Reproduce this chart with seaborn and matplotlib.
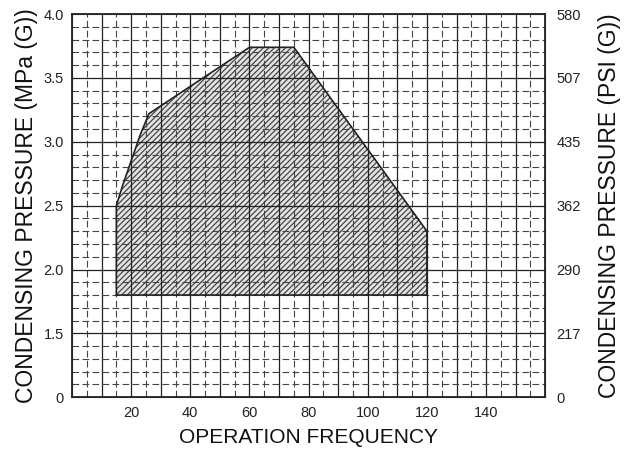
import numpy as np
import pandas as pd
import matplotlib
matplotlib.use("Agg")
import matplotlib.pyplot as plt
import seaborn as sns

# Operating envelope (frequency vs condensing pressure, MPa)
freq = [15, 15, 17, 20, 23, 26, 60, 75, 120, 120]
pressure = [1.8, 2.5, 2.65, 2.85, 3.05, 3.22, 3.74, 3.74, 2.3, 1.8]

# Tick labels (the bottom tick "0" sits where 1.0 MPa would be - broken axis)
x_ticks = [20, 40, 60, 80, 100, 120, 140]
y_ticks = [1.0, 1.5, 2.0, 2.5, 3.0, 3.5, 4.0]
y_labels = ["0", "1.5", "2.0", "2.5", "3.0", "3.5", "4.0"]
psi_labels = ["0", "217", "290", "362", "435", "507", "580"]

sns.set_style("white")
plt.rcParams['font.family'] = ['Liberation Sans', 'DejaVu Sans']
plt.rcParams['hatch.linewidth'] = 0.9

fig = plt.figure(figsize=(6.26, 4.55), dpi=100)
ax = fig.add_axes([0.115, 0.127, 0.756, 0.842])
ax.set_xlim(0, 160)
ax.set_ylim(1.0, 4.0)

# hatched envelope
ax.fill(freq, pressure, facecolor='#e0e0e0', edgecolor='#2a2a2a',
        hatch='//////', lw=0, zorder=1, alpha=0.85)

# grid drawn over the envelope: dashed minor, solid major
for x in np.arange(5, 160, 10):
    ax.axvline(x, color='#444444', lw=0.8, ls=(0, (6, 3)), zorder=2)
for x in np.arange(10, 160, 10):
    ax.axvline(x, color='#222222', lw=0.9, zorder=2)
for y in np.arange(1.1, 4.0, 0.1):
    if abs(round(y * 2) - y * 2) > 1e-6:
        ax.axhline(y, color='#444444', lw=0.8, ls=(0, (6, 3)), zorder=2)
for y in np.arange(1.5, 4.0, 0.5):
    ax.axhline(y, color='#222222', lw=0.9, zorder=2)

env = pd.DataFrame({'freq': freq + [freq[0]], 'pressure': pressure + [pressure[0]]})
sns.lineplot(data=env, x='freq', y='pressure', sort=False, estimator=None,
             color='#222222', lw=1.2, ax=ax, zorder=3)

ax.set_xticks(x_ticks)
ax.set_yticks(y_ticks)
ax.set_yticklabels(y_labels)
ax.tick_params(labelsize=10.5, length=0, pad=6, labelcolor='#222222')
ax.set_xlabel("OPERATION FREQUENCY", fontsize=15, labelpad=6, color='#111111')
ax.set_ylabel("CONDENSING PRESSURE (MPa (G))", fontsize=16.5, labelpad=4, color='#111111')
for s in ax.spines.values():
    s.set_color('#111111')
    s.set_linewidth(1.2)

ax2 = ax.twinx()
ax2.set_ylim(ax.get_ylim())
ax2.set_yticks(y_ticks)
ax2.set_yticklabels(psi_labels)
ax2.tick_params(labelsize=10.5, length=0, pad=8, labelcolor='#222222')
ax2.set_ylabel("CONDENSING PRESSURE (PSI (G))", fontsize=16.5, labelpad=12, color='#111111')
for lab in ax2.get_yticklabels():
    lab.set_horizontalalignment('left')

fig.savefig("out.png", dpi=100)
